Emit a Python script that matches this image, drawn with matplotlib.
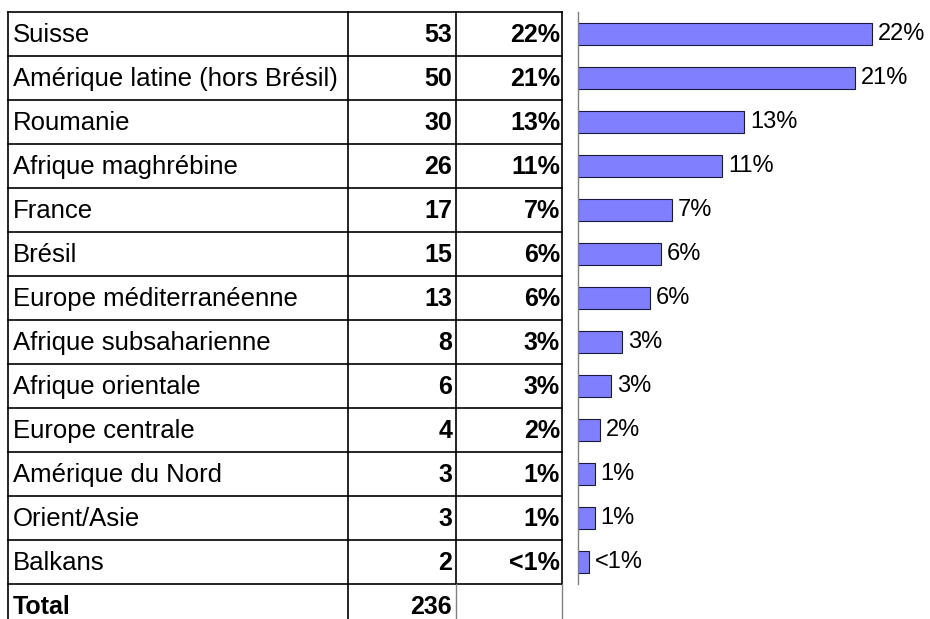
import matplotlib
matplotlib.use('Agg')
import matplotlib.pyplot as plt

plt.rcParams['font.family'] = ['Liberation Sans', 'DejaVu Sans']

regions = ['Suisse', 'Amérique latine (hors Brésil)', 'Roumanie', 'Afrique maghrébine',
           'France', 'Brésil', 'Europe méditerranéenne', 'Afrique subsaharienne',
           'Afrique orientale', 'Europe centrale', 'Amérique du Nord', 'Orient/Asie', 'Balkans']
counts = [53, 50, 30, 26, 17, 15, 13, 8, 6, 4, 3, 3, 2]
pct_labels = ['22%', '21%', '13%', '11%', '7%', '6%', '6%', '3%', '3%', '2%', '1%', '1%', '<1%']
total_label = 'Total'
total = 236

W, H = 930, 619
top, row_h = 12, 44
col_x = [8, 348, 456, 562]
n = len(regions)
fs_name = 18.5
fs = 18
fs_bar = 17

fig = plt.figure(figsize=(W / 100, H / 100), dpi=100)

# table layer in pixel coordinates
tab = fig.add_axes([0, 0, 1, 1])
tab.set_xlim(0, W)
tab.set_ylim(H, 0)
tab.axis('off')

y_bottom = top + row_h * n
for k in range(n + 1):
    y = top + row_h * k
    tab.plot([col_x[0], col_x[3]], [y, y], color='black', lw=1.2)
tab.plot([col_x[0], col_x[0]], [top, H], color='black', lw=1.2)
tab.plot([col_x[1], col_x[1]], [top, H], color='black', lw=1.2)
for x in col_x[2:]:
    tab.plot([x, x], [top, y_bottom], color='black', lw=1.2)
    tab.plot([x, x], [y_bottom, H], color='#808080', lw=1.0)

for i, (name, c, p) in enumerate(zip(regions, counts, pct_labels)):
    yc = top + row_h * (i + 0.5) + 1
    tab.text(col_x[0] + 5, yc, name, fontsize=fs_name, va='center', ha='left')
    tab.text(col_x[2] - 4, yc, str(c), fontsize=fs, va='center', ha='right', fontweight='bold')
    tab.text(col_x[3] - 2, yc, p, fontsize=fs, va='center', ha='right', fontweight='bold')

yc = top + row_h * (n + 0.5) + 1
tab.text(col_x[0] + 5, yc, total_label, fontsize=fs, va='center', ha='left', fontweight='bold')
tab.text(col_x[2] - 4, yc, str(total), fontsize=fs, va='center', ha='right', fontweight='bold')

# bar chart
x0 = 578
px_per_unit = 294 / 53
bar_ax = fig.add_axes([x0 / W, 1 - y_bottom / H, (W - x0) / W, row_h * n / H])
bar_ax.patch.set_alpha(0)
ypos = list(range(n))
bar_ax.barh(ypos, counts, height=0.5, color='#8080ff', edgecolor='#1a1a40', linewidth=0.8)
bar_ax.set_xlim(0, (W - x0) / px_per_unit)
bar_ax.set_ylim(n - 0.5, -0.5)
for s in ['top', 'right', 'bottom']:
    bar_ax.spines[s].set_visible(False)
bar_ax.spines['left'].set_color('#808080')
bar_ax.spines['left'].set_linewidth(1.0)
bar_ax.set_xticks([])
bar_ax.set_yticks([])
for yv, c, p in zip(ypos, counts, pct_labels):
    bar_ax.text(c + 1.0, yv, p, fontsize=fs_bar, va='center', ha='left')

fig.savefig('out.png', dpi=100)
